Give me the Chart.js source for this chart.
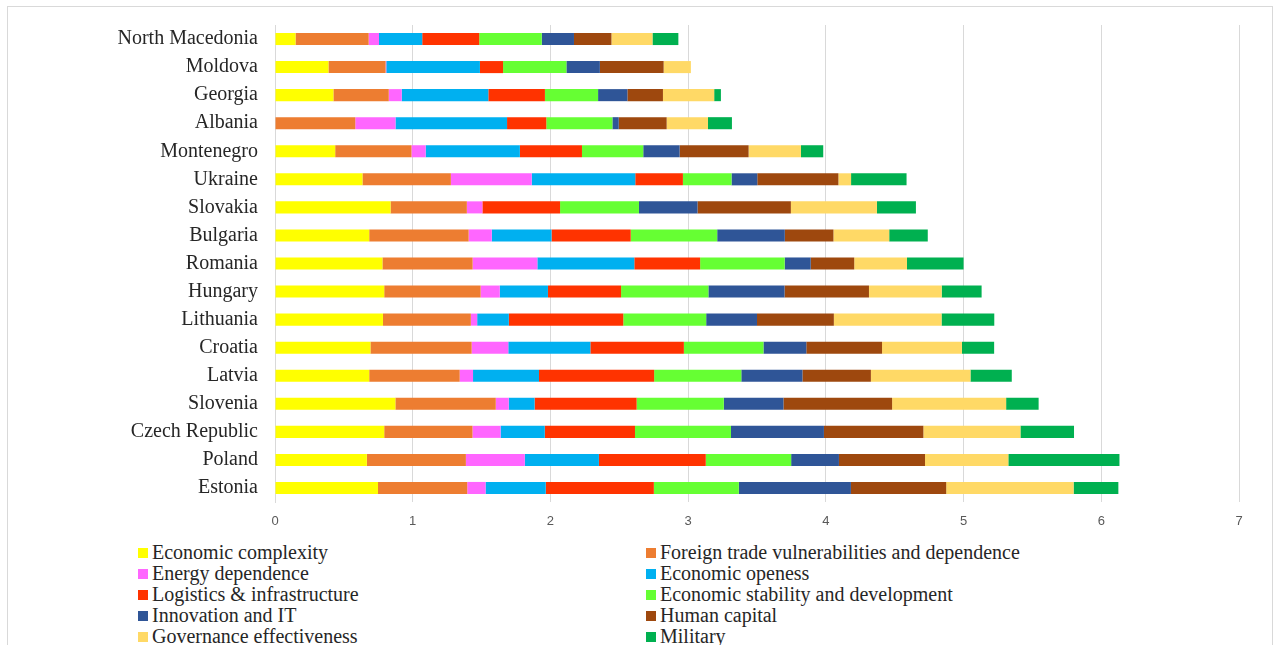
<!DOCTYPE html>
<html>
<head>
<meta charset="utf-8">
<script src="https://cdn.jsdelivr.net/npm/chart.js@4/dist/chart.umd.min.js"></script>
<style>
    body { margin: 0; background: #fff; overflow: hidden; }
    #frame {
        position: absolute; left: 7px; top: 6px; width: 1266px; height: 660px;
        border: 1px solid #d9d9d9; box-sizing: border-box;
    }
    #box { position: absolute; left: 0; top: 0; width: 1264px; height: 533px; }
    #legend {
        position: absolute; left: 130px; top: 535px; width: 1100px;
        display: grid; grid-template-columns: 508px 560px; grid-auto-rows: 21px;
        font-family: "Liberation Serif", "Times New Roman", serif; font-size: 20px; color: #262626;
    }
    #legend div { display: flex; align-items: center; white-space: nowrap; }
    #legend span.sw { display: inline-block; width: 10px; height: 10px; margin-right: 4px; }
</style>
</head>
<body>
<div id="frame">
    <div id="box"><canvas id="myChart"></canvas></div>
    <div id="legend"></div>
</div>
<script>
var countries = ['North Macedonia', 'Moldova', 'Georgia', 'Albania', 'Montenegro', 'Ukraine', 'Slovakia',
    'Bulgaria', 'Romania', 'Hungary', 'Lithuania', 'Croatia', 'Latvia', 'Slovenia', 'Czech Republic', 'Poland', 'Estonia'];

var seriesNames = ['Economic complexity', 'Foreign trade vulnerabilities and dependence', 'Energy dependence',
    'Economic openess', 'Logistics & infrastructure', 'Economic stability and development', 'Innovation and IT',
    'Human capital', 'Governance effectiveness', 'Military'];

var seriesColors = ['#FFFF00', '#ED7D31', '#FF66FF', '#00B0F0', '#FF3300', '#66FF33', '#2F5597', '#9E480E', '#FFD966', '#00B050'];

var economicComplexity = [0.149, 0.388, 0.424, 0, 0.437, 0.635, 0.839, 0.684, 0.780, 0.793, 0.784, 0.693, 0.684, 0.874, 0.793, 0.667, 0.748];
var foreignTrade       = [0.531, 0.415, 0.402, 0.583, 0.554, 0.642, 0.554, 0.722, 0.655, 0.700, 0.638, 0.735, 0.657, 0.729, 0.641, 0.719, 0.648];
var energyDependence   = [0.075, 0.005, 0.094, 0.292, 0.103, 0.587, 0.113, 0.168, 0.470, 0.139, 0.046, 0.266, 0.097, 0.094, 0.204, 0.428, 0.133];
var economicOpeness    = [0.314, 0.680, 0.629, 0.810, 0.684, 0.752, 0, 0.434, 0.704, 0.350, 0.230, 0.596, 0.479, 0.188, 0.321, 0.538, 0.437];
var logistics          = [0.414, 0.168, 0.411, 0.285, 0.451, 0.346, 0.564, 0.575, 0.478, 0.531, 0.831, 0.679, 0.836, 0.741, 0.655, 0.776, 0.785];
var economicStability  = [0.454, 0.460, 0.386, 0.480, 0.445, 0.353, 0.573, 0.628, 0.614, 0.634, 0.602, 0.578, 0.633, 0.633, 0.697, 0.620, 0.617];
var innovation         = [0.234, 0.243, 0.213, 0.046, 0.264, 0.187, 0.425, 0.491, 0.189, 0.553, 0.369, 0.311, 0.444, 0.433, 0.675, 0.347, 0.814];
var humanCapital       = [0.272, 0.463, 0.258, 0.348, 0.501, 0.589, 0.678, 0.353, 0.316, 0.613, 0.558, 0.550, 0.497, 0.789, 0.722, 0.625, 0.692];
var governance         = [0.298, 0.198, 0.372, 0.300, 0.380, 0.092, 0.625, 0.405, 0.383, 0.528, 0.782, 0.580, 0.723, 0.828, 0.705, 0.605, 0.925];
var military           = [0.188, 0, 0.049, 0.174, 0.162, 0.403, 0.283, 0.280, 0.411, 0.290, 0.383, 0.234, 0.300, 0.236, 0.389, 0.807, 0.325];

var xTicks = [0, 1, 2, 3, 4, 5, 6, 7];

var allSeries = [economicComplexity, foreignTrade, energyDependence, economicOpeness, logistics,
    economicStability, innovation, humanCapital, governance, military];

var datasets = allSeries.map(function (values, i) {
    return {
        label: seriesNames[i],
        data: values,
        backgroundColor: seriesColors[i],
        borderWidth: 0,
        barPercentage: 0.43,
        categoryPercentage: 1
    };
});

var ctx = document.getElementById('myChart').getContext('2d');
var myChart = new Chart(ctx, {
    type: 'bar',
    data: { labels: countries, datasets: datasets },
    options: {
        indexAxis: 'y',
        responsive: true,
        maintainAspectRatio: false,
        animation: false,
        layout: { padding: { left: 0, right: 33, top: 18, bottom: 0 } },
        plugins: { legend: { display: false }, tooltip: { enabled: false } },
        scales: {
            x: {
                stacked: true,
                min: 0,
                max: 7,
                afterBuildTicks: function (scale) {
                    scale.ticks = xTicks.map(function (v) { return { value: v }; });
                },
                afterFit: function (scale) {
                    scale.height = 38;
                    scale.paddingLeft = 0;
                    scale.paddingRight = 0;
                },
                grid: { color: '#d9d9d9', lineWidth: 1, drawTicks: false },
                border: { display: false },
                ticks: {
                    padding: 12,
                    color: '#595959',
                    font: { family: 'Liberation Sans', size: 13 }
                }
            },
            y: {
                stacked: true,
                afterFit: function (scale) {
                    scale.width = 267;
                    scale.paddingTop = 0;
                    scale.paddingBottom = 0;
                },
                grid: { display: false, drawTicks: false },
                border: { display: true, color: '#d9d9d9' },
                ticks: {
                    padding: 17,
                    color: '#262626',
                    font: { family: 'Liberation Serif', size: 20 }
                }
            }
        }
    }
});

// legend in two columns, like the original
var legend = document.getElementById('legend');
myChart.data.datasets.forEach(function (ds) {
    var item = document.createElement('div');
    item.innerHTML = '<span class="sw" style="background:' + ds.backgroundColor + '"></span>' + ds.label.replace('&', '&amp;');
    legend.appendChild(item);
});
</script>
</body>
</html>
